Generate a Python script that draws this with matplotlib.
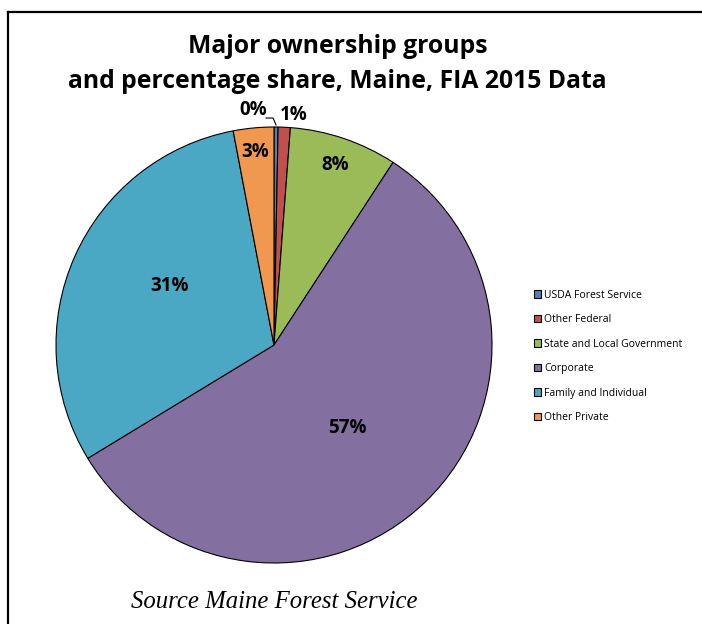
import numpy as np
import matplotlib.pyplot as plt
from matplotlib.patches import Rectangle
from matplotlib.lines import Line2D

# data
groups = ["USDA Forest Service", "Other Federal", "State and Local Government",
          "Corporate", "Family and Individual", "Other Private"]
shares = [0.3, 0.9, 8.0, 57.1, 30.7, 3.0]
labels = ["0%", "1%", "8%", "57%", "31%", "3%"]
colors = ["#4F81BD", "#C0504D", "#9BBB59", "#8470A0", "#4BA8C4", "#F0984F"]

# label placement: (radius fraction, angle offset in deg)
label_pos = [(1.08, 5.6), (1.06, -2.2), (0.87, 0.0), (0.51, -2.6), (0.55, -5.6), (0.89, 0.3)]

W, H = 702, 624
fig = plt.figure(figsize=(W / 100, H / 100), dpi=100)
ax = fig.add_axes([0, 0, 1, 1])

cx, cy, R = 274, H - 345, 218

wedges, _ = ax.pie(shares, colors=colors, startangle=90, counterclock=False,
                   center=(cx, cy), radius=R, frame=True,
                   wedgeprops=dict(edgecolor="black", linewidth=0.8))
ax.set_xlim(0, W)
ax.set_ylim(0, H)
ax.set_aspect("equal")
ax.axis("off")

for w, lab, (rf, off) in zip(wedges, labels, label_pos):
    mid = np.deg2rad((w.theta1 + w.theta2) / 2 + off)
    x = cx + rf * R * np.cos(mid)
    y = cy + rf * R * np.sin(mid)
    ax.text(x, y, lab, ha="center", va="center", fontsize=13.5,
            fontweight="bold", family="Open Sans", color="black")

# leader line for the tiny slice
w0 = wedges[0]
mid0 = np.deg2rad((w0.theta1 + w0.theta2) / 2)
ex, ey = cx + R * np.cos(mid0), cy + R * np.sin(mid0)
ax.plot([ex - 10, ex - 3, ex], [ey + 9, ey + 9, ey + 2], color="black", lw=0.8)

# title
fig.text(0.481, 0.926, "Major ownership groups", ha="center", va="center",
         fontsize=17.8, fontweight="bold", family="Open Sans")
fig.text(0.481, 0.870, "and percentage share, Maine, FIA 2015 Data", ha="center",
         va="center", fontsize=17.8, fontweight="bold", family="Open Sans")

# legend
handles = [Rectangle((0, 0), 1, 1, facecolor=c, edgecolor="black", lw=0.8) for c in colors]
leg = fig.legend(handles, groups, loc="upper left", bbox_to_anchor=(0.747, 0.551),
                 frameon=False, handlelength=0.72, handleheight=0.72,
                 handletextpad=0.3, labelspacing=1.3, prop=dict(family="Open Sans", size=7.5))

# source note
fig.text(0.391, 0.036, "Source Maine Forest Service", ha="center", va="center",
         fontsize=17.8, style="italic", family="Liberation Serif")

# partial frame (left and top)
fig.add_artist(Line2D([0.0107, 0.0107], [0, 0.981], color="black", lw=1.6,
                      transform=fig.transFigure))
fig.add_artist(Line2D([0.0107, 1.0], [0.981, 0.981], color="black", lw=1.6,
                      transform=fig.transFigure))

fig.savefig("out.png", dpi=100)
